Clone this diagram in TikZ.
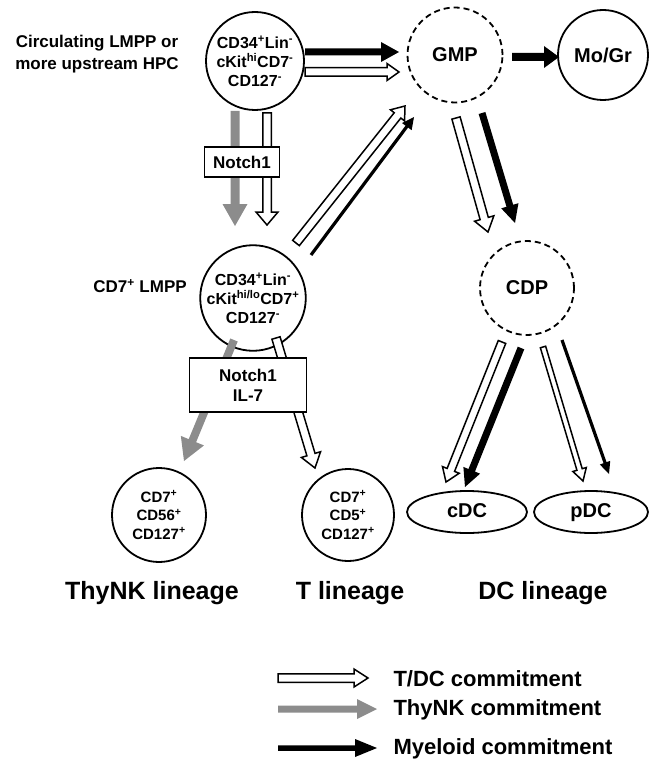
\documentclass[tikz,border=0pt]{standalone}
\usepackage{fontspec}
\setmainfont{Liberation Sans}
\usetikzlibrary{calc,shapes.geometric}
\newcommand\sps[1]{\textsuperscript{#1}}
% block arrow: [style]{start}{end}{half shaft}{half head}{head length}
\newcommand\blockarr[6][]{%
  \path[#1] ($(#2)!#4!-90:(#3)$) -- ($(#3)!#6!(#2)!#4!90:(#2)$) -- ($(#3)!#6!(#2)!#5!90:(#2)$) -- (#3)
    -- ($(#3)!#6!(#2)!#5!-90:(#2)$) -- ($(#3)!#6!(#2)!#4!-90:(#2)$) -- ($(#2)!#4!90:(#3)$) -- cycle;}
\definecolor{arrgray}{HTML}{8C8C8C}
\tikzset{
  cell/.style={circle, draw=black, line width=1.8pt, align=center, inner sep=0pt,
    font=\fontsize{16}{19}\selectfont\bfseries},
  cellsmall/.style={cell, font=\fontsize{15}{18.5}\selectfont\bfseries},
  dcell/.style={cell, dash pattern=on 6pt off 4pt, font=\fontsize{20}{24}\selectfont\bfseries},
  bigcell/.style={cell, font=\fontsize{20}{24}\selectfont\bfseries},
  oval/.style={ellipse, draw=black, line width=1.8pt, inner sep=0pt, minimum height=42pt,
    text height=14.5pt, text depth=4pt, font=\fontsize{20}{24}\selectfont\bfseries},
  factor/.style={rectangle, draw=black, fill=white, line width=1.5pt, align=center,
    font=\fontsize{17}{20}\selectfont\bfseries},
  lbl/.style={align=center, font=\fontsize{17}{22}\selectfont\bfseries},
  lineage/.style={font=\fontsize{25}{30}\selectfont\bfseries},
  legtxt/.style={anchor=west, font=\fontsize{22}{26}\selectfont\bfseries},
  wa/.style={draw=black, fill=white, line width=1.5pt, line join=miter},
  ba/.style={fill=black},
  ga/.style={fill=arrgray},
}
\begin{document}
\begin{tikzpicture}[x=1pt,y=-1pt]
\useasboundingbox (0,0) rectangle (650,765);

% cells
\node[cell, minimum size=98pt] (hpc) at (255,61) {CD34\sps{+}Lin\sps{-}\\cKit\sps{hi}CD7\sps{-}\\CD127\sps{-}};
\node[dcell, minimum size=95pt] (gmp) at (455,55) {GMP};
\node[bigcell, minimum size=90pt] (mogr) at (603,55) {Mo/Gr};
\node[cell, minimum size=94pt] (lmpp) at (253,298) {CD34\sps{+}Lin\sps{-}\\cKit\sps{hi/lo}CD7\sps{+}\\CD127\sps{-}};
\node[dcell, minimum size=94pt] (cdp) at (527,288) {CDP};
\node[cellsmall, minimum size=94pt] (thynk) at (159,515) {CD7\sps{+}\\CD56\sps{+}\\CD127\sps{+}};
\node[cellsmall, minimum size=92pt] (tcell) at (348,515) {CD7\sps{+}\\CD5\sps{+}\\CD127\sps{+}};
\node[oval, minimum width=120pt] (cdc) at (467,512) {cDC};
\node[oval, minimum width=114pt] (pdc) at (591,512) {pDC};

% labels
\node[lbl] (lblhpc) at (97,54) {Circulating LMPP or\\more upstream HPC};
\node[lbl] (lbllmpp) at (140,286) {CD7\sps{+} LMPP};
\node[lineage] (linnk) at (152,593) {ThyNK lineage};
\node[lineage] (lint) at (350,593) {T lineage};
\node[lineage] (lindc) at (543,593) {DC lineage};

% arrow end points
\coordinate (a1s) at (305,52);  \coordinate (a1e) at (399,52);
\coordinate (a2s) at (305,72);  \coordinate (a2e) at (399,72);
\coordinate (a3s) at (512,57);  \coordinate (a3e) at (559,57);
\coordinate (a4s) at (235,111); \coordinate (a4e) at (235,226);
\coordinate (a5s) at (267,113); \coordinate (a5e) at (267,225);
\coordinate (a6s) at (296,243); \coordinate (a6e) at (405,106);
\coordinate (a7s) at (311,255); \coordinate (a7e) at (414,117);
\coordinate (a8s) at (456,118); \coordinate (a8e) at (488,232);
\coordinate (a9s) at (482,113); \coordinate (a9e) at (515,223);
\coordinate (a10s) at (234,340); \coordinate (a10e) at (184,461);
\coordinate (a11s) at (276,338); \coordinate (a11e) at (315,468);
\coordinate (a12s) at (502,342); \coordinate (a12e) at (446,482);
\coordinate (a13s) at (521,348); \coordinate (a13e) at (465,487);
\coordinate (a14s) at (543,347); \coordinate (a14e) at (583,481);
\coordinate (a15s) at (562,340); \coordinate (a15e) at (609,474);

\blockarr[ba]{a1s}{a1e}{3.5pt}{10pt}{18pt}
\blockarr[wa]{a2s}{a2e}{4.25pt}{8.5pt}{12pt}
\blockarr[ba]{a3s}{a3e}{4pt}{11pt}{15pt}
\blockarr[ga]{a4s}{a4e}{4.5pt}{12.5pt}{22pt}
\blockarr[wa]{a5s}{a5e}{4.25pt}{11pt}{13pt}
\blockarr[wa]{a6s}{a6e}{4.25pt}{9pt}{12pt}
\blockarr[ba]{a7s}{a7e}{1.6pt}{6pt}{12pt}
\blockarr[wa]{a8s}{a8e}{4.25pt}{10pt}{14pt}
\blockarr[ba]{a9s}{a9e}{3.5pt}{9pt}{18pt}
\blockarr[ga]{a10s}{a10e}{4pt}{12.5pt}{22pt}
\blockarr[wa]{a11s}{a11e}{4.25pt}{10pt}{14pt}
\blockarr[wa]{a12s}{a12e}{4pt}{9pt}{13pt}
\blockarr[ba]{a13s}{a13e}{3.5pt}{9pt}{18pt}
\blockarr[wa]{a14s}{a14e}{2.75pt}{7pt}{12pt}
\blockarr[ba]{a15s}{a15e}{1.6pt}{5.5pt}{12pt}

% factor boxes (drawn over the arrows)
\node[factor, minimum width=75pt, minimum height=30pt] (n1) at (242,162) {Notch1};
\node[factor, minimum width=117pt, minimum height=54pt] (n2) at (248,385) {Notch1\\IL-7};

% legend
\coordinate (l1s) at (278,678); \coordinate (l1e) at (368,678);
\coordinate (l2s) at (278,709); \coordinate (l2e) at (377,709);
\coordinate (l3s) at (278,748); \coordinate (l3e) at (377,748);
\blockarr[wa]{l1s}{l1e}{4.25pt}{9pt}{14pt}
\blockarr[ga]{l2s}{l2e}{3.5pt}{10pt}{20pt}
\blockarr[ba]{l3s}{l3e}{2.75pt}{9pt}{22pt}
\node[legtxt] (t1) at (390,679) {T/DC commitment};
\node[legtxt] (t2) at (390,710) {ThyNK commitment};
\node[legtxt] (t3) at (390,749) {Myeloid commitment};
\end{tikzpicture}
\end{document}
